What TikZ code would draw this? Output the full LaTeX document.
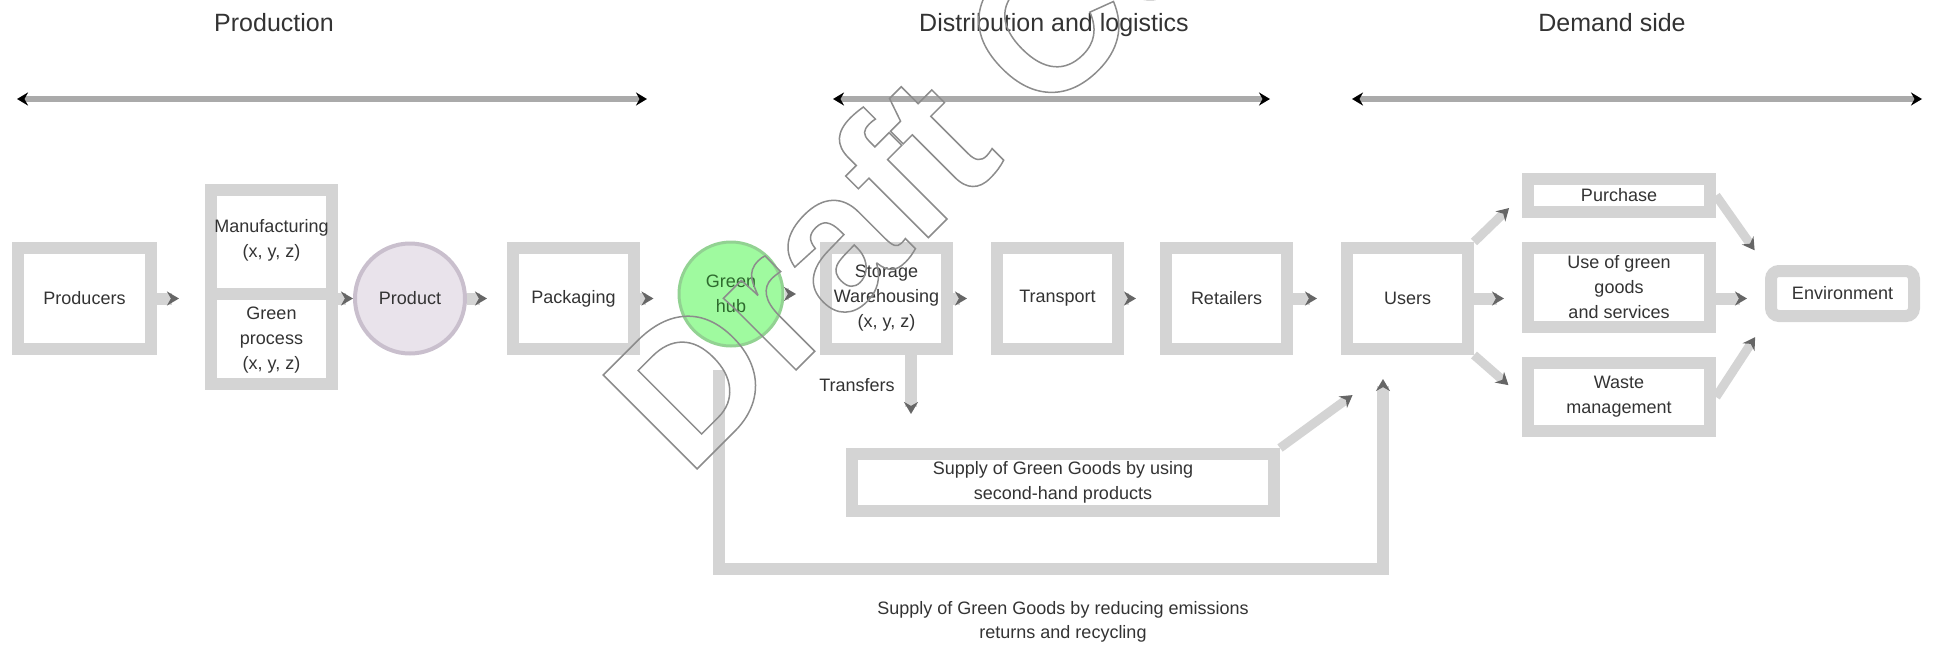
\documentclass[tikz,border=0pt]{standalone}
\usepackage{fontspec}
\setmainfont{Liberation Sans}
\usetikzlibrary{arrows.meta}
\definecolor{bordc}{HTML}{D4D4D4}
\definecolor{axisc}{HTML}{AAAAAA}
\definecolor{tipc}{HTML}{666666}
\definecolor{txtc}{HTML}{333333}
\definecolor{lavfill}{HTML}{E9E3EB}
\definecolor{lavdraw}{HTML}{C9BFCD}
\definecolor{grnfill}{HTML}{9FFA9F}
\definecolor{grndraw}{HTML}{92D292}
\definecolor{grntxt}{HTML}{2E6B2E}
\definecolor{wmc}{HTML}{8C8C8C}
\newcommand\bxfont{\fontsize{18}{25}\selectfont}
\newcommand\ttlfont{\fontsize{25}{29}\selectfont}
\newcommand\wmfont{\fontsize{193}{193}\selectfont\bfseries}
\tikzset{
  nbox/.style={draw=bordc, line width=12pt, inner sep=0pt, align=center, font=\bxfont, text=txtc, minimum width=121pt, minimum height=101pt},
  conn/.style={draw=bordc, line width=12pt, -{Stealth[length=12pt,width=14pt,color=tipc]}},
  thinconn/.style={draw=bordc, line width=9pt, -{Stealth[length=12pt,width=14pt,color=tipc]}},
  axisline/.style={draw=axisc, line width=6pt, {Stealth[length=11pt,width=13pt,color=black]}-{Stealth[length=11pt,width=13pt,color=black]}},
  ttl/.style={font=\ttlfont, text=txtc, anchor=base, inner sep=0pt},
  plain/.style={font=\bxfont, text=txtc, align=center, inner sep=0pt}
}
\begin{document}
\begin{tikzpicture}[x=1pt,y=-1pt]
\useasboundingbox (0,0) rectangle (1936,654);

% titles
\node[ttl] (t1) at (274,31) {Production};
\node[ttl] (t2) at (1054,31) {Distribution and logistics};
\node[ttl] (t3) at (1612,31) {Demand side};

% axis lines
\coordinate (p1) at (17,99);   \coordinate (p2) at (647,99);
\coordinate (d1) at (833,99);  \coordinate (d2) at (1270,99);
\coordinate (e1) at (1352,99); \coordinate (e2) at (1922,99);
\draw[axisline] (p1) -- (p2);
\draw[axisline] (d1) -- (d2);
\draw[axisline] (e1) -- (e2);

% main row
\node[nbox, minimum width=133pt] (prod) at (84.5,298.5) {Producers};
\node[nbox, minimum height=194pt] (stack) at (271.5,287) {};
\draw[draw=bordc, line width=12pt] (stack.west |- 0,294) -- (stack.east |- 0,294);
\node[plain] (stkT) at (271.5,240) {Manufacturing\\(x, y, z)};
\node[plain] (stkB) at (271.5,340) {Green\\process\\(x, y, z)};
\node[circle, draw=lavdraw, fill=lavfill, line width=4pt, minimum size=110pt, inner sep=0pt, font=\bxfont, text=txtc] (prodc) at (410,298.5) {Product};
\node[nbox] (pack) at (573.5,298.5) {Packaging};
\node[circle, draw=grndraw, fill=grnfill, line width=3pt, minimum size=104pt, inner sep=0pt, font=\bxfont, text=grntxt, align=center] (hub) at (731,294) {Green\\hub};
\node[nbox] (dc) at (886.5,298.5) {Storage\\Warehousing\\(x, y, z)};
\node[nbox] (trans) at (1057.5,298.5) {Transport};
\node[nbox] (ret) at (1226.5,298.5) {Retailers};
\node[nbox] (users) at (1407.5,298.5) {Users};

% demand side
\node[nbox, minimum width=182pt, minimum height=33pt] (dT) at (1619,195.5) {Purchase};
\node[nbox, minimum width=182pt, minimum height=79pt] (dM) at (1619,287.5) {Use of green\\goods\\and services};
\node[nbox, minimum width=182pt, minimum height=68pt] (dB) at (1619,397) {Waste\\management};
\node[nbox, minimum width=143pt, minimum height=45pt, rounded corners=8pt] (env) at (1842.5,293.5) {Environment};

% lower part
\node[nbox, minimum width=422pt, minimum height=57pt] (lbox) at (1063,482.5) {Supply of Green Goods by using\\second-hand products};
\node[plain] (lbl) at (857,385) {Transfers};
\node[plain, font={\fontsize{18}{24}\selectfont}] (btxt) at (1063,622) {Supply of Green Goods by reducing emissions\\returns and recycling};

% row connectors
\draw[conn, shorten >=26pt] (prod.east) -- (prod.east -| stack.west);
\draw[conn] (stack.east |- prodc.west) -- (prodc.west);
\draw[conn, shorten >=20pt] (prodc.east) -- (pack.west);
\draw[conn, shorten >=24pt] (pack.east) -- (pack.east -| hub.west);
\draw[conn, shorten >=24pt] (hub.east) -- (hub.east -| dc.west);
\draw[conn, shorten >=24pt] (dc.east) -- (trans.west);
\draw[conn, shorten >=24pt] (trans.east) -- (ret.west);
\draw[conn, shorten >=24pt] (ret.east) -- (users.west);

% demand connectors
\draw[thinconn, shorten >=18pt] (users.north east) -- (dT.west);
\draw[conn, shorten >=18pt] (users.east) -- (users.east -| dM.west);
\draw[thinconn, shorten >=18pt] (users.south east) -- (dB.west);
\draw[thinconn, shorten >=18pt] (dT.east) -- (env.north west);
\draw[conn, shorten >=18pt] (dM.east |- users.east) -- (env.west |- users.east);
\draw[thinconn, shorten >=18pt] (dB.east) -- (env.south west);

% lower connectors
\coordinate (dn) at (911,0);
\draw[conn, shorten >=34pt] (dc.south -| dn) -- (lbox.north -| dn);
\draw[thinconn, shorten >=68pt] (lbox.north east) -- (users.south);
\coordinate (lb) at (719,569);
\coordinate (rb) at (1383,569);
\draw[conn, shorten <=22pt, shorten >=24pt] (hub.south -| lb) -- (lb) -- (rb) -- (users.south -| rb);

% watermark
\node[rotate=45, anchor=base west, inner sep=0pt, outer sep=0pt, text=wmc, font=\wmfont] (wm) at (688,478) {\special{pdf:literal direct 1 Tr 1.5 w 0.55 0.55 0.55 RG}Draft Copy\special{pdf:literal direct 0 Tr}};
\end{tikzpicture}
\end{document}
